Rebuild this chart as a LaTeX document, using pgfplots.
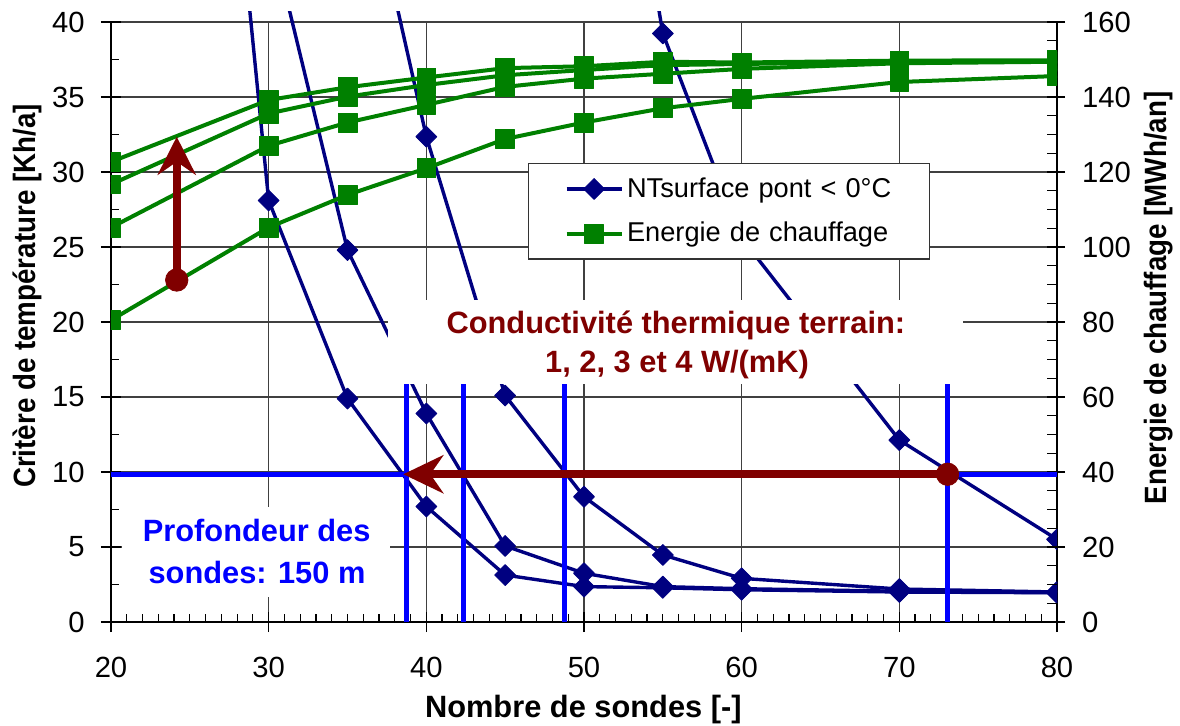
\documentclass[border=0pt]{standalone}
\usepackage{pgfplots}
\pgfplotsset{compat=1.18}
\usepackage{fontspec}
\setmainfont{Liberation Sans}
\usepackage{graphicx}
\usetikzlibrary{arrows.meta}

\definecolor{navyline}{RGB}{0,0,128}
\definecolor{greenline}{RGB}{0,128,0}
\definecolor{darkred}{RGB}{128,0,0}
\definecolor{pureblue}{RGB}{0,0,255}

\newcommand{\tickfont}{\fontsize{14.6}{17}\selectfont}
\newcommand{\labelfont}{\bfseries\fontsize{15.4}{18}\selectfont}

\pgfplotsset{
  base/.style={at={(0,0)}, anchor=south west, scale only axis,
    width=473pt, height=300pt, xmin=20, xmax=80},
  ntstyle/.style={navyline, line width=1.7pt, line join=round,
    mark=square*, mark size=3.7pt,
    mark options={rotate=45, solid, fill=navyline, line width=0.4pt},
    mark phase=1, mark repeat=1},
  enstyle/.style={greenline, line width=2pt, line join=round,
    mark=square*, mark size=4.7pt,
    mark options={solid, fill=greenline, line width=0.4pt}},
}

\begin{document}
\begin{tikzpicture}
\useasboundingbox (-55.5pt,-51.5pt) rectangle (534.5pt,311pt);

% frame, grid and left axis
\begin{axis}[base, ymin=0, ymax=40, clip=false,
  axis x line*=bottom, axis y line*=left,
  axis line style={line width=1pt, black},
  xtick={20,30,...,80}, ytick={0,5,...,40},
  minor x tick num=9, minor y tick num=1,
  tick align=inside, major tick length=5pt, minor tick length=3.9pt,
  tick style={black, line width=0.6pt},
  extra x ticks={20,30,...,80}, extra y ticks={0,5,...,40},
  extra x tick labels={}, extra y tick labels={},
  extra tick style={grid=none, tick align=outside, major tick length=5pt},
  grid=major, major grid style={black!75, line width=0.6pt},
  tick label style={font=\tickfont},
  /pgf/number format/assume math mode=true,
  xticklabel style={anchor=base, yshift=-27.65pt, inner sep=0pt},
  yticklabel style={anchor=east, xshift=-13pt, inner sep=0pt},
  xlabel={Nombre de sondes [-]},
  ylabel={\scalebox{0.9}[1]{Critère de température [Kh/a]}},
  every axis x label/.style={at={(axis description cs:0.4993,-0.1595)}, anchor=base, font=\labelfont},
  every axis y label/.style={at={(axis description cs:-0.0803,0.5433)}, anchor=base, rotate=90, font=\labelfont},
]
\draw[line width=1.4pt] (rel axis cs:1,0) -- (rel axis cs:1,1);
\end{axis}

% NTsurface pont < 0 °C for 1, 2, 3 and 4 W/(mK)
\begin{axis}[base, height=305pt, ymin=0, ymax=40.67, hide axis, clip marker paths=true]
\addplot[ntstyle] coordinates {(25,81) (30,28.1) (35,14.9) (40,7.7) (45,3.13) (50,2.36) (55,2.28) (60,2.15) (70,2.0) (80,1.95)};
\addplot[ntstyle] coordinates {(30,46.5) (35,24.8) (40,13.9) (45,5.07) (50,3.25) (55,2.36) (60,2.22) (70,2.05) (80,1.96)};
\addplot[ntstyle] coordinates {(35,55.7) (40,32.36) (45,15.1) (50,8.35) (55,4.47) (60,2.91) (70,2.2) (80,2.0)};
\addplot[ntstyle] coordinates {(50,70.8) (55,39.24) (60,25.6) (70,12.13) (80,5.51)};
\end{axis}

% heating energy, right axis
\begin{axis}[base, ymin=0, ymax=160,
  axis x line=none, axis y line*=right,
  y axis line style={draw=none},
  ytick={0,20,...,160}, minor y tick num=3,
  tick align=inside, major tick length=5pt, minor tick length=5pt,
  tick style={black, line width=0.6pt},
  extra y ticks={0,20,...,160}, extra y tick labels={},
  extra tick style={tick align=outside, major tick length=4pt},
  /pgf/number format/assume math mode=true,
  yticklabel style={anchor=west, xshift=12.35pt, inner sep=0pt, font=\tickfont},
  ylabel={\scalebox{0.9}[1]{Energie de chauffage [MWh/an]}},
  every axis y label/.style={at={(axis description cs:1.116,0.54)}, anchor=base, rotate=90, font=\labelfont},
  clip marker paths=true,
  legend style={at={(0.4408,0.765)}, anchor=north west, draw=black!80, line width=0.6pt,
    fill=white, font=\fontsize{13.6}{16}\selectfont,
    inner xsep=18pt, inner ysep=7pt, row sep=11pt,
    nodes={inner xsep=1.75pt, inner ysep=0pt, anchor=west},
    /tikz/every even column/.append style={text width=131.5pt}},
  legend cell align=left,
  legend image code/.code={\draw[#1, mark repeat=2, mark phase=2] plot coordinates {(0pt,0pt) (13.75pt,0pt) (27.5pt,0pt)};},
]
\addlegendimage{ntstyle}
\addlegendentry{\mbox{NTsurface pont < 0°C}}
\addplot[enstyle] coordinates {(20,122.7) (30,139.2) (35,142.6) (40,145.2) (45,147.7) (50,148.2) (55,149.4) (60,149.2) (70,149.7) (80,149.8)};
\addlegendentry{\mbox{Energie de chauffage}}
\addplot[enstyle, forget plot] coordinates {(20,116.7) (30,135.6) (35,140.1) (40,143.2) (45,145.8) (50,147.2) (55,148.5) (60,148.8) (70,149.4) (80,149.6)};
\addplot[enstyle, forget plot] coordinates {(20,105.2) (30,127.0) (35,133.2) (40,137.9) (45,142.7) (50,144.9) (55,146.2) (60,147.5) (70,149.0) (80,149.4)};
\addplot[enstyle, forget plot] coordinates {(20,80.5) (30,105.2) (35,113.9) (40,121.0) (45,128.8) (50,133.2) (55,137.0) (60,139.5) (70,144.0) (80,145.6)};
\end{axis}

% reading guides and notes
\begin{axis}[base, ymin=0, ymax=40, hide axis, clip=false]
\fill[white] (axis cs:37.57,15.87) rectangle (axis cs:74.03,21.47);
\fill[white] (axis cs:20.70,1.67) rectangle (axis cs:37.69,7.67);
\addplot[pureblue, line width=2.3pt] coordinates {(20,9.85) (80,9.85)};
\addplot[pureblue, line width=2.3pt] coordinates {(38.75,0) (38.75,15.87)};
\addplot[pureblue, line width=2.3pt] coordinates {(42.34,0) (42.34,15.87)};
\addplot[pureblue, line width=2.3pt] coordinates {(48.75,0) (48.75,15.87)};
\addplot[pureblue, line width=2.3pt] coordinates {(73.06,0) (73.06,15.87)};
\addplot[darkred, line width=4pt, -{Stealth[length=20pt,width=19pt,inset=6.5pt]}] coordinates {(73.06,9.85) (38.54,9.85)};
\addplot[darkred, line width=4.2pt, -{Stealth[length=19pt,width=19pt,inset=6.5pt]}] coordinates {(24.17,22.8) (24.17,32.35)};
\addplot[darkred, only marks, mark=*, mark size=5.6pt] coordinates {(73.06,9.85) (24.17,22.8)};
\node[anchor=base, text=darkred, font=\labelfont] at (axis cs:55.83,19.25) {Conductivité thermique terrain:};
\node[anchor=base, text=darkred, font=\labelfont] at (axis cs:55.9,16.62) {1, 2, 3 et 4 W/(mK)};
\node[anchor=base, text=pureblue, font=\labelfont] at (axis cs:29.24,5.35) {Profondeur des};
\node[anchor=base, text=pureblue, font=\labelfont] at (axis cs:29.26,2.58) {sondes: 150 m};
\end{axis}
\end{tikzpicture}
\end{document}
